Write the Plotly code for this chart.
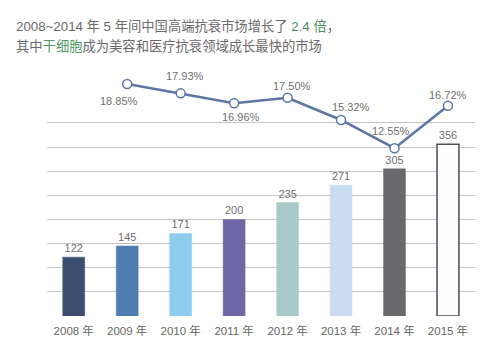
import plotly.graph_objects as go

years = ["2008 年", "2009 年", "2010 年", "2011 年", "2012 年", "2013 年", "2014 年", "2015 年"]
market = [122, 145, 171, 200, 235, 271, 305, 356]
bar_colors = ["#3d4f70", "#4f7db3", "#8fcdf0", "#6f67a6", "#a8cbc7", "#c9dcf1", "#6a6a6c", "#ffffff"]
bar_lines = ["#3d4f70", "#4f7db3", "#8fcdf0", "#6f67a6", "#a8cbc7", "#c9dcf1", "#6a6a6c", "#4a4c60"]

growth_years = years[1:]
growth = [18.85, 17.93, 16.96, 17.50, 15.32, 12.55, 16.72]
growth_text = ["18.85%", "17.93%", "16.96%", "17.50%", "15.32%", "12.55%", "16.72%"]
# label offsets from each point (pixels, x right / y up)
label_dx = [-8, 4, 7, 4, 10, -4, 0]
label_dy = [-17, 17, -14, 12, 13, 17, 11]

grid_vals = [0, 50, 100, 150, 200, 250, 300, 350, 400]

FONT = "Liberation Sans, Arial, Noto Sans CJK SC, sans-serif"

fig = go.Figure()
fig.add_trace(go.Bar(
    x=years, y=market, width=0.41,
    marker=dict(color=bar_colors, line=dict(color=bar_lines, width=[0.5]*7 + [1.5])),
    text=[str(v) for v in market], textposition="outside",
    textfont=dict(family=FONT, size=11, color="#707070"),
    cliponaxis=False, showlegend=False,
))
fig.add_trace(go.Scatter(
    x=growth_years, y=growth, yaxis="y2", mode="lines+markers",
    line=dict(color="#5a76a2", width=2.5),
    marker=dict(size=9, color="#ffffff", line=dict(color="#5a76a2", width=1.5)),
    cliponaxis=False, showlegend=False,
))

annotations = [
    dict(x=gx, y=gv, xref="x", yref="y2", text=gt, showarrow=False,
         xshift=dx, yshift=dy, xanchor="center", yanchor="middle",
         font=dict(family=FONT, size=11, color="#707070"))
    for gx, gv, gt, dx, dy in zip(growth_years, growth, growth_text, label_dx, label_dy)
]
annotations += [
    dict(xref="paper", yref="paper", x=(14 - 47) / 428, y=(316 - 26) / 246,
         xanchor="left", yanchor="middle", showarrow=False,
         text='2008~2014 年 5 年间中国高端抗衰市场增长了 <span style="color:#4e8a5e">2.4 倍</span>，',
         font=dict(family=FONT, size=13.3, color="#6a6a6a")),
    dict(xref="paper", yref="paper", x=(14 - 47) / 428, y=(316 - 45.5) / 246,
         xanchor="left", yanchor="middle", showarrow=False,
         text='其中<span style="color:#4e9a62">干细胞</span>成为美容和医疗抗衰领域成长最快的市场',
         font=dict(family=FONT, size=13.3, color="#6a6a6a")),
]

fig.update_layout(
    width=500, height=351,
    margin=dict(l=47, r=25, t=70, b=35),
    paper_bgcolor="white", plot_bgcolor="white",
    xaxis=dict(showline=False, ticks="outside", ticklen=4, tickcolor="rgba(0,0,0,0)",
               tickfont=dict(family=FONT, size=11.5, color="#666666"), showgrid=False),
    yaxis=dict(range=[0, 509.8], tickvals=grid_vals, showticklabels=False,
               gridcolor="#c4c4c4", gridwidth=1, zeroline=False, showline=False),
    yaxis2=dict(range=[-3.9, 20.22], overlaying="y", visible=False, showgrid=False),
    annotations=annotations,
)

fig.write_html("out.html")
